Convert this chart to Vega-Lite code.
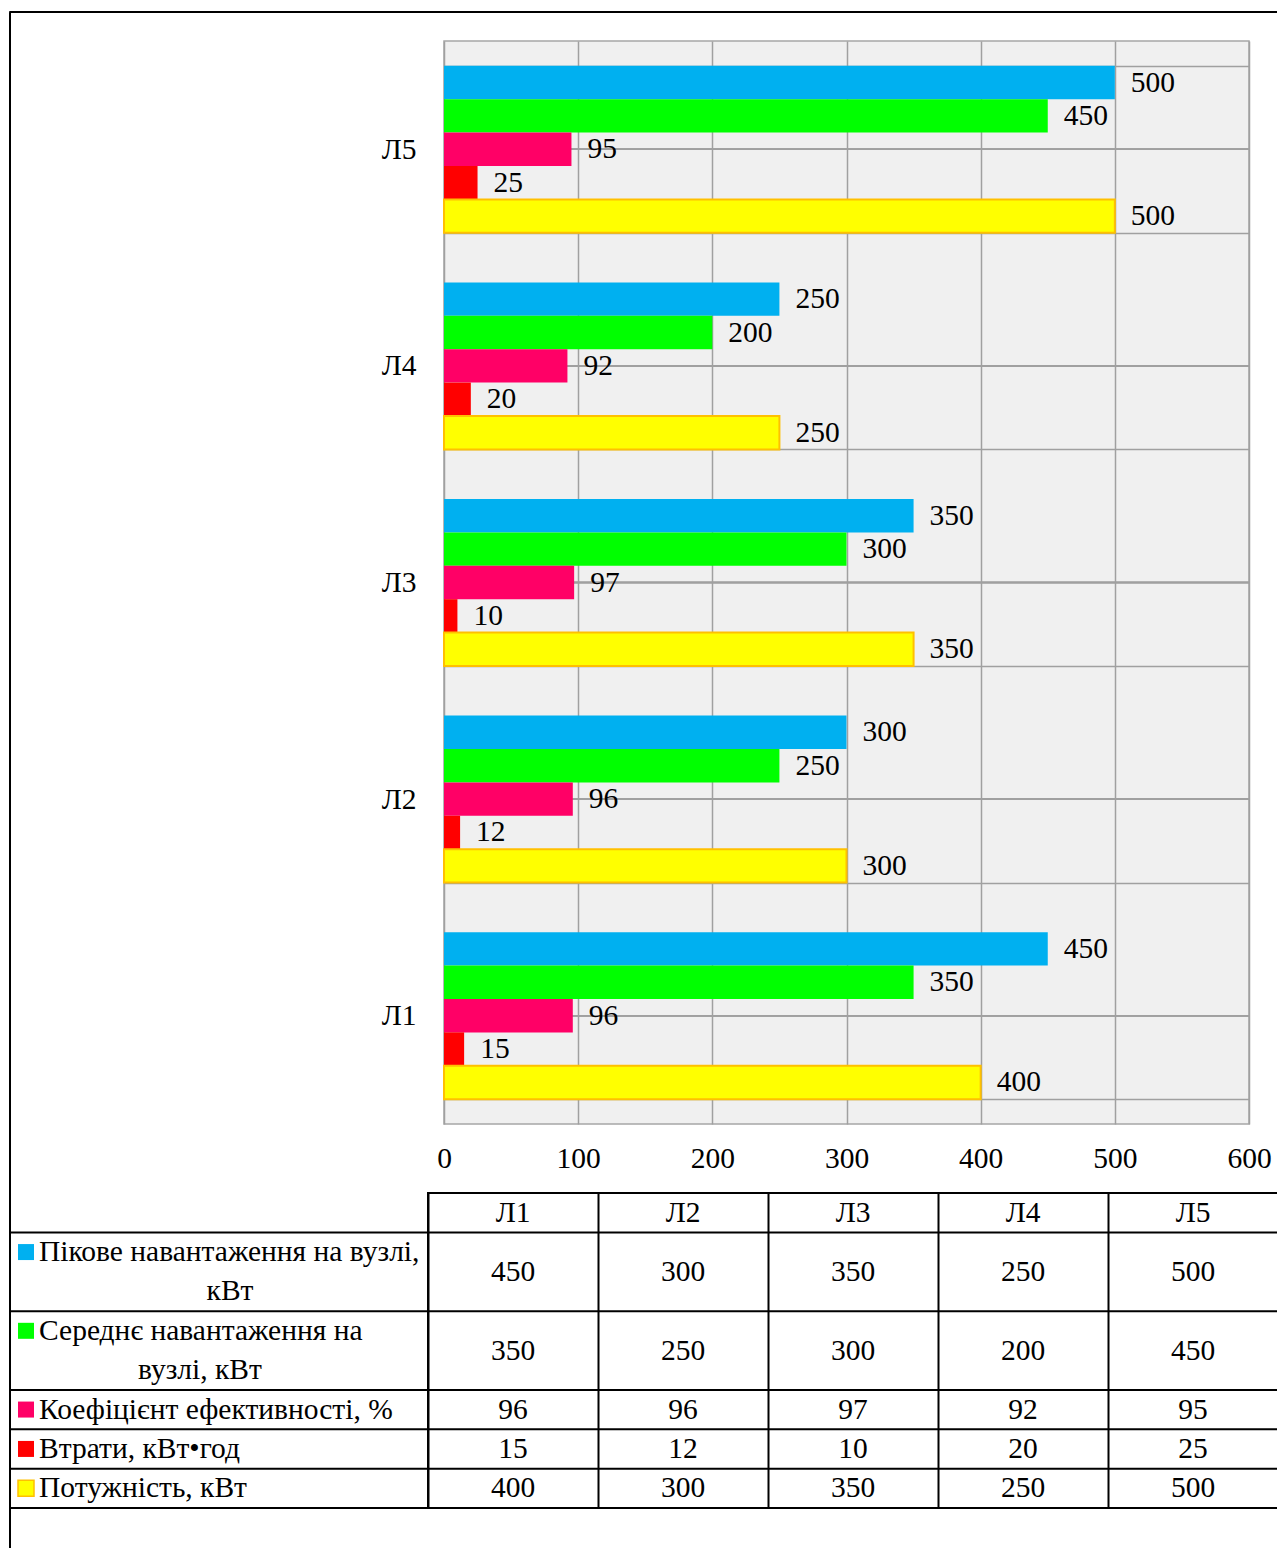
{
  "$schema": "https://vega.github.io/schema/vega-lite/v6.json",
  "padding": {"left": 8, "top": 10, "right": 0, "bottom": 0},
  "autosize": {"type": "pad"},
  "background": "white",
  "bounds": "flush",
  "datasets": {
    "bars": [
      {"line": "Л1", "series": "Пікове навантаження на вузлі, кВт", "value": 450},
      {"line": "Л1", "series": "Середнє навантаження на вузлі, кВт", "value": 350},
      {"line": "Л1", "series": "Коефіцієнт ефективності, %", "value": 96},
      {"line": "Л1", "series": "Втрати, кВт•год", "value": 15},
      {"line": "Л1", "series": "Потужність, кВт", "value": 400},
      {"line": "Л2", "series": "Пікове навантаження на вузлі, кВт", "value": 300},
      {"line": "Л2", "series": "Середнє навантаження на вузлі, кВт", "value": 250},
      {"line": "Л2", "series": "Коефіцієнт ефективності, %", "value": 96},
      {"line": "Л2", "series": "Втрати, кВт•год", "value": 12},
      {"line": "Л2", "series": "Потужність, кВт", "value": 300},
      {"line": "Л3", "series": "Пікове навантаження на вузлі, кВт", "value": 350},
      {"line": "Л3", "series": "Середнє навантаження на вузлі, кВт", "value": 300},
      {"line": "Л3", "series": "Коефіцієнт ефективності, %", "value": 97},
      {"line": "Л3", "series": "Втрати, кВт•год", "value": 10},
      {"line": "Л3", "series": "Потужність, кВт", "value": 350},
      {"line": "Л4", "series": "Пікове навантаження на вузлі, кВт", "value": 250},
      {"line": "Л4", "series": "Середнє навантаження на вузлі, кВт", "value": 200},
      {"line": "Л4", "series": "Коефіцієнт ефективності, %", "value": 92},
      {"line": "Л4", "series": "Втрати, кВт•год", "value": 20},
      {"line": "Л4", "series": "Потужність, кВт", "value": 250},
      {"line": "Л5", "series": "Пікове навантаження на вузлі, кВт", "value": 500},
      {"line": "Л5", "series": "Середнє навантаження на вузлі, кВт", "value": 450},
      {"line": "Л5", "series": "Коефіцієнт ефективності, %", "value": 95},
      {"line": "Л5", "series": "Втрати, кВт•год", "value": 25},
      {"line": "Л5", "series": "Потужність, кВт", "value": 500}
    ],
    "labels": [
      {"series": "Пікове навантаження на вузлі, кВт", "l1": "Пікове навантаження на вузлі,", "l2": "кВт"},
      {"series": "Середнє навантаження на вузлі, кВт", "l1": "Середнє навантаження на", "l2": "вузлі, кВт"},
      {"series": "Коефіцієнт ефективності, %", "l1": "Коефіцієнт ефективності, %", "l2": ""},
      {"series": "Втрати, кВт•год", "l1": "Втрати, кВт•год", "l2": ""},
      {"series": "Потужність, кВт", "l1": "Потужність, кВт", "l2": ""}
    ]
  },
  "spacing": 0,
  "vconcat": [
    {
      "width": 1269, "height": 1,
      "view": {"stroke": "black", "strokeWidth": 1},
      "data": {"values": []},
      "mark": "rule",
      "encoding": {}
    },
    {
      "spacing": 0,
      "bounds": "flush",
      "hconcat": [
        {
          "width": 1, "height": 1537,
          "view": {"stroke": "black", "strokeWidth": 1},
          "data": {"values": []},
          "mark": "rule",
          "encoding": {}
        },
        {
          "spacing": 0,
          "bounds": "full",
          "vconcat": [
            {
              "width": 1268, "height": 13,
              "data": {"values": []},
              "mark": "rule",
              "encoding": {}
            },
            {
              "spacing": 0,
              "bounds": "flush",
              "hconcat": [
                {
                  "width": 434, "height": 1083,
                  "data": {"values": []},
                  "mark": "rule",
                  "encoding": {}
                },
                {
                  "width": 805, "height": 1083,
                  "view": {"stroke": "#A6A6A6", "strokeWidth": 1.5, "fill": "#F0F0F0"},
                  "data": {"name": "bars"},
                  "layer": [
                    {
                      "mark": {"type": "rule", "color": "#A0A0A0", "strokeWidth": 1.5},
                      "encoding": {
                        "y": {"field": "line", "type": "nominal", "bandPosition": 0.5, "sort": ["Л5", "Л4", "Л3", "Л2", "Л1"]}
                      }
                    },
                    {
                      "mark": {"type": "bar", "strokeWidth": 2},
                      "encoding": {
                        "y": {
                          "field": "line", "type": "nominal", "sort": ["Л5", "Л4", "Л3", "Л2", "Л1"],
                          "scale": {"paddingInner": 0.229, "paddingOuter": 0.1145},
                          "axis": {"title": null, "ticks": false, "domain": false, "labelPadding": 28, "grid": true, "tickBand": "extent", "gridColor": "#A0A0A0", "gridWidth": 1.5}
                        },
                        "x": {
                          "field": "value", "type": "quantitative",
                          "scale": {"domain": [0, 600]},
                          "axis": {"title": null, "values": [0, 100, 200, 300, 400, 500, 600], "grid": true, "gridColor": "#A0A0A0", "gridWidth": 1.5, "ticks": false, "domain": false, "labelPadding": 20, "labelFlush": false, "minExtent": 67, "maxExtent": 67}
                        },
                        "yOffset": {
                          "field": "series", "type": "nominal",
                          "sort": ["Пікове навантаження на вузлі, кВт", "Середнє навантаження на вузлі, кВт", "Коефіцієнт ефективності, %", "Втрати, кВт•год", "Потужність, кВт"],
                          "scale": {"paddingInner": 0, "paddingOuter": 0}
                        },
                        "color": {
                          "field": "series", "type": "nominal",
                          "scale": {
                            "domain": ["Пікове навантаження на вузлі, кВт", "Середнє навантаження на вузлі, кВт", "Коефіцієнт ефективності, %", "Втрати, кВт•год", "Потужність, кВт"],
                            "range": ["#00B0F0", "#00FF00", "#FF0066", "#FF0000", "#FFFF00"]
                          },
                          "legend": null
                        },
                        "stroke": {"condition": {"test": "datum.series === 'Потужність, кВт'", "value": "#FFC000"}, "value": null}
                      }
                    },
                    {
                      "mark": {"type": "text", "align": "left", "baseline": "middle", "dx": 16, "font": "Liberation Serif", "fontSize": 29.5, "color": "black"},
                      "encoding": {
                        "y": {"field": "line", "type": "nominal", "sort": ["Л5", "Л4", "Л3", "Л2", "Л1"]},
                        "x": {"field": "value", "type": "quantitative"},
                        "yOffset": {
                          "field": "series", "type": "nominal",
                          "sort": ["Пікове навантаження на вузлі, кВт", "Середнє навантаження на вузлі, кВт", "Коефіцієнт ефективності, %", "Втрати, кВт•год", "Потужність, кВт"]
                        },
                        "text": {"field": "value", "type": "quantitative"}
                      }
                    }
                  ]
                }
              ]
            },
            {
              "spacing": 0,
              "bounds": "flush",
              "hconcat": [
                {
                  "width": 418, "height": 315,
                  "data": {"name": "labels"},
                  "layer": [
                    {
                      "mark": {"type": "rule", "color": "black", "strokeWidth": 2},
                      "encoding": {
                        "y": {
                          "field": "series", "type": "nominal", "bandPosition": 0,
                          "scale": {"domain": ["hdr", "Пікове навантаження на вузлі, кВт", "Пікове2", "Середнє навантаження на вузлі, кВт", "Середнє2", "Коефіцієнт ефективності, %", "Втрати, кВт•год", "Потужність, кВт"], "paddingInner": 0, "paddingOuter": 0},
                          "axis": null
                        }
                      }
                    },
                    {
                      "transform": [{"filter": "datum.series === 'Потужність, кВт'"}],
                      "mark": {"type": "rule", "color": "black", "strokeWidth": 2},
                      "encoding": {
                        "y": {"field": "series", "type": "nominal", "bandPosition": 1}
                      }
                    },
                    {
                      "mark": {"type": "point", "shape": "square", "size": 256, "filled": true, "opacity": 1, "strokeWidth": 1.5, "xOffset": -193},
                      "encoding": {
                        "y": {"field": "series", "type": "nominal", "bandPosition": 0.5},
                        "color": {
                          "field": "series", "type": "nominal",
                          "scale": {
                            "domain": ["Пікове навантаження на вузлі, кВт", "Середнє навантаження на вузлі, кВт", "Коефіцієнт ефективності, %", "Втрати, кВт•год", "Потужність, кВт"],
                            "range": ["#00B0F0", "#00FF00", "#FF0066", "#FF0000", "#FFFF00"]
                          },
                          "legend": null
                        },
                        "stroke": {"condition": {"test": "datum.series === 'Потужність, кВт'", "value": "#FFC000"}, "value": null}
                      }
                    },
                    {
                      "mark": {"type": "text", "align": "left", "baseline": "middle", "dx": -180, "font": "Liberation Serif", "fontSize": 29.5, "color": "black"},
                      "encoding": {
                        "y": {"field": "series", "type": "nominal", "bandPosition": 0.5},
                        "text": {"field": "l1", "type": "nominal"}
                      }
                    },
                    {
                      "transform": [{"filter": "datum.series === 'Пікове навантаження на вузлі, кВт'"}],
                      "mark": {"type": "text", "align": "center", "baseline": "middle", "dx": 11, "font": "Liberation Serif", "fontSize": 29.5, "color": "black"},
                      "encoding": {
                        "y": {"field": "series", "type": "nominal", "bandPosition": 1.5},
                        "text": {"field": "l2", "type": "nominal"}
                      }
                    },
                    {
                      "transform": [{"filter": "datum.series === 'Середнє навантаження на вузлі, кВт'"}],
                      "mark": {"type": "text", "align": "center", "baseline": "middle", "dx": -19, "font": "Liberation Serif", "fontSize": 29.5, "color": "black"},
                      "encoding": {
                        "y": {"field": "series", "type": "nominal", "bandPosition": 1.5},
                        "text": {"field": "l2", "type": "nominal"}
                      }
                    }
                  ]
                },
                {
                  "width": 850, "height": 315,
                  "view": {"stroke": "black", "strokeWidth": 2},
                  "data": {"name": "bars"},
                  "layer": [
                    {
                      "transform": [{"filter": "datum.line === 'Л1'"}],
                      "mark": {"type": "rule", "color": "black", "strokeWidth": 2},
                      "encoding": {
                        "y": {
                          "field": "series", "type": "nominal", "bandPosition": 0,
                          "scale": {"domain": ["hdr", "Пікове навантаження на вузлі, кВт", "Пікове2", "Середнє навантаження на вузлі, кВт", "Середнє2", "Коефіцієнт ефективності, %", "Втрати, кВт•год", "Потужність, кВт"], "paddingInner": 0, "paddingOuter": 0},
                          "axis": null
                        }
                      }
                    },
                    {
                      "transform": [{"filter": "datum.series === 'Пікове навантаження на вузлі, кВт'"}],
                      "mark": {"type": "text", "align": "center", "baseline": "middle", "font": "Liberation Serif", "fontSize": 29.5, "color": "black"},
                      "encoding": {
                        "x": {
                          "field": "line", "type": "nominal", "sort": ["Л1", "Л2", "Л3", "Л4", "Л5"],
                          "scale": {"paddingInner": 0, "paddingOuter": 0},
                          "axis": {"orient": "bottom", "title": null, "labels": false, "ticks": false, "domain": false, "grid": true, "tickBand": "extent", "gridColor": "black", "gridWidth": 2}
                        },
                        "y": {"datum": "hdr", "type": "nominal"},
                        "text": {"field": "line", "type": "nominal"}
                      }
                    },
                    {
                      "transform": [{"filter": "datum.series === 'Пікове навантаження на вузлі, кВт' || datum.series === 'Середнє навантаження на вузлі, кВт'"}],
                      "mark": {"type": "text", "align": "center", "baseline": "middle", "font": "Liberation Serif", "fontSize": 29.5, "color": "black"},
                      "encoding": {
                        "x": {"field": "line", "type": "nominal", "sort": ["Л1", "Л2", "Л3", "Л4", "Л5"]},
                        "y": {"field": "series", "type": "nominal", "bandPosition": 1},
                        "text": {"field": "value", "type": "quantitative"}
                      }
                    },
                    {
                      "transform": [{"filter": "datum.series !== 'Пікове навантаження на вузлі, кВт' && datum.series !== 'Середнє навантаження на вузлі, кВт'"}],
                      "mark": {"type": "text", "align": "center", "baseline": "middle", "font": "Liberation Serif", "fontSize": 29.5, "color": "black"},
                      "encoding": {
                        "x": {"field": "line", "type": "nominal", "sort": ["Л1", "Л2", "Л3", "Л4", "Л5"]},
                        "y": {"field": "series", "type": "nominal", "bandPosition": 0.5},
                        "text": {"field": "value", "type": "quantitative"}
                      }
                    }
                  ]
                }
              ]
            }
          ]
        }
      ]
    }
  ],
  "config": {
    "view": {"stroke": null},
    "axis": {"labelFont": "Liberation Serif", "labelFontSize": 29.5, "labelColor": "black", "labelOverlap": false},
    "text": {"font": "Liberation Serif"}
  }
}
